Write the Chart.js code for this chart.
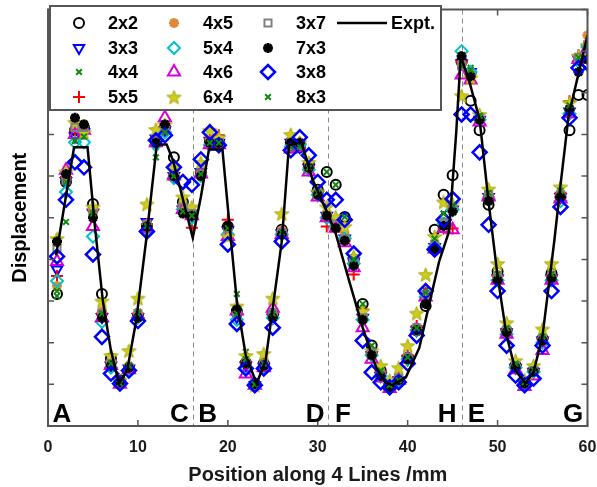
<!DOCTYPE html>
<html>
<head>
<meta charset="utf-8">
<script src="https://cdn.jsdelivr.net/npm/chart.js@4.4.1/dist/chart.umd.min.js"></script>
<style>
  html, body { margin: 0; padding: 0; background: #fff; }
  #wrap { width: 597px; height: 487px; }
</style>
</head>
<body>
<div id="wrap"><canvas id="chart" width="597" height="487"></canvas></div>
<script>
// Sample positions along the four lines (mm)
const positions = [1,2,3,4,5,6,7,8,9,10,11,12,13,14,15,16,17,18,19,20,
                   21,22,23,24,25,26,27,28,29,30,31,32,33,34,35,36,37,38,39,40,
                   41,42,43,44,45,46,47,48,49,50,51,52,53,54,55,56,57,58,59,60];

// Simulated displacement for each mesh (arbitrary units)
const mesh2x2 = [3.17,5.86,7.10,7.17,5.33,3.17,1.62,1.10,1.38,2.64,4.79,6.81,7.17,6.45,5.38,5.10,6.05,6.81,6.81,4.79,
                 2.76,1.52,1.02,1.50,2.69,4.71,6.81,6.69,6.29,5.67,6.10,5.79,5.02,4.00,2.93,1.93,1.33,0.98,1.10,1.64,
                 2.29,2.88,4.71,5.55,6.02,8.74,7.81,7.10,5.31,3.71,2.29,1.45,1.05,1.33,2.10,3.67,5.50,7.10,7.95,7.95];
const mesh3x3 = [3.76,5.88,6.95,7.05,5.12,2.62,1.45,1.02,1.38,2.62,4.90,6.90,7.10,6.00,5.20,5.05,6.10,6.85,6.80,4.70,
                 2.62,1.45,0.98,1.42,2.60,4.62,6.80,6.70,6.20,5.55,5.05,4.80,4.50,3.95,2.60,1.70,1.20,0.93,1.10,1.60,
                 2.30,3.10,4.30,4.85,5.20,8.71,8.50,7.35,5.50,3.55,2.25,1.40,1.00,1.30,2.05,3.55,5.50,7.55,8.80,9.05];
const mesh4x4 = [3.12,4.90,6.85,6.95,5.05,2.75,1.55,1.05,1.45,2.75,4.80,6.70,7.10,6.10,5.10,5.00,6.00,6.75,6.75,4.80,
                 3.17,1.78,1.05,1.50,2.75,4.70,6.65,6.70,6.25,5.60,5.00,4.90,4.50,4.05,2.70,1.80,1.30,0.95,1.15,1.65,
                 2.40,3.25,4.45,5.10,5.20,8.60,8.60,7.45,5.60,3.65,2.30,1.50,1.05,1.35,2.15,3.65,5.65,7.70,8.80,9.10];
const mesh5x5 = [3.60,5.98,7.10,7.05,5.20,2.70,1.50,1.05,1.40,2.70,4.85,6.90,7.20,6.00,5.25,4.76,6.10,6.90,6.98,4.95,
                 2.70,1.50,1.00,1.45,2.70,4.65,6.75,6.80,6.20,5.55,4.79,4.74,4.45,3.64,2.80,1.75,1.30,0.95,1.15,1.70,
                 2.40,3.20,4.20,4.74,4.74,8.75,8.45,7.40,5.50,3.60,2.30,1.45,1.00,1.35,2.10,3.60,5.60,7.80,8.90,9.15];
const mesh4x5 = [3.36,6.00,7.33,7.24,5.20,2.75,1.55,1.05,1.45,2.70,4.85,6.85,7.20,6.05,5.25,5.10,6.05,6.85,6.85,4.75,
                 2.70,1.50,1.02,1.50,2.70,4.70,6.75,6.80,6.20,5.60,5.10,4.85,4.55,4.00,2.65,1.75,1.25,0.93,1.15,1.65,
                 2.35,3.15,4.35,4.90,5.25,8.70,8.45,7.40,5.55,3.60,2.30,1.45,1.02,1.33,2.10,3.60,5.55,7.60,8.85,9.38];
const mesh5x4 = [3.48,5.62,6.81,6.81,4.55,2.50,1.40,1.00,1.35,2.60,4.70,6.75,7.05,5.95,5.20,5.00,6.00,6.75,6.75,4.60,
                 2.55,1.40,0.98,1.40,2.60,4.60,6.70,6.75,6.15,5.55,5.00,4.80,4.50,3.90,2.55,1.70,1.20,0.90,1.10,1.60,
                 2.30,3.10,4.30,4.85,5.20,9.00,8.50,7.35,5.45,3.50,2.20,1.40,1.00,1.30,2.00,3.50,5.40,7.50,8.75,9.10];
const mesh4x6 = [3.95,6.14,7.00,7.10,4.79,2.60,1.45,1.00,1.35,2.65,4.75,6.80,7.40,6.00,5.20,5.05,6.05,6.75,6.75,4.55,
                 2.76,1.25,0.98,1.40,2.83,4.60,6.65,6.70,6.10,5.50,5.00,4.75,4.40,3.80,2.36,1.60,1.15,0.90,1.10,1.60,
                 2.30,3.10,4.25,4.74,4.71,8.43,8.31,7.30,5.50,3.50,2.20,1.35,0.95,1.20,1.81,3.50,5.45,7.50,8.80,9.07];
const mesh6x4 = [4.50,6.10,7.29,7.05,5.26,3.00,1.69,1.10,1.81,3.07,5.33,7.12,7.24,6.21,5.50,5.26,6.33,7.10,6.93,4.55,
                 2.88,1.69,0.98,1.74,3.07,5.10,7.00,6.81,6.33,5.62,5.26,5.02,4.79,4.07,2.76,1.81,1.45,1.10,1.40,1.93,
                 2.71,3.64,4.55,5.38,5.33,7.93,8.36,7.48,5.69,3.90,2.48,1.57,1.10,1.45,2.33,3.90,5.74,7.76,8.88,9.14];
const mesh3x7 = [4.24,5.90,7.17,7.17,5.10,2.70,1.50,1.05,1.40,2.70,4.85,6.85,7.15,6.05,5.25,5.10,6.05,6.80,6.80,4.75,
                 2.70,1.50,1.02,1.48,2.70,4.65,6.75,6.75,6.20,5.60,5.05,4.85,4.50,3.95,2.60,1.75,1.25,0.93,1.15,1.65,
                 2.35,3.15,4.35,4.90,5.25,8.65,8.45,7.40,5.55,3.60,2.30,1.45,1.02,1.33,2.10,3.60,5.55,7.60,8.85,9.15];
const mesh7x3 = [4.43,6.05,7.40,7.24,5.00,2.60,1.45,1.05,1.40,2.60,4.79,6.80,7.24,6.00,5.10,5.05,6.00,6.80,6.80,4.80,
                 2.80,1.50,1.00,1.45,2.60,4.60,6.80,6.80,6.20,5.55,5.05,4.75,4.45,3.85,2.55,1.70,1.20,0.93,1.10,1.60,
                 2.30,2.93,4.25,4.80,5.15,8.88,8.40,7.35,5.40,3.50,2.25,1.40,1.02,1.30,2.05,3.55,5.50,7.60,8.50,8.80];
const mesh3x8 = [4.07,5.43,6.33,6.21,4.12,2.14,1.26,1.02,1.33,2.52,4.67,6.86,6.98,6.21,5.86,5.79,6.40,7.05,6.74,4.36,
                 2.45,1.38,0.98,1.38,2.36,4.43,6.62,6.93,6.50,5.86,5.43,5.43,4.95,4.14,2.05,1.29,1.05,0.93,1.05,1.50,
                 2.17,3.24,4.24,4.95,5.45,7.48,7.48,6.57,4.83,3.24,1.93,1.21,0.98,1.14,1.93,3.24,5.26,7.40,8.60,8.71];
const mesh8x3 = [3.24,5.86,6.85,6.95,5.10,2.70,1.50,1.02,1.45,2.70,4.80,6.45,7.05,6.00,5.15,5.05,6.05,6.80,6.80,4.75,
                 2.70,1.60,1.00,1.50,2.70,4.65,6.70,6.70,6.20,5.60,6.10,5.79,5.02,4.00,2.93,1.93,1.33,0.98,1.10,1.65,
                 2.35,3.20,4.50,5.10,5.30,8.65,8.55,7.45,5.60,3.65,2.35,1.50,1.05,1.35,2.15,3.65,5.65,7.70,8.85,9.10];

// Measured profile
const exptX = [0.9,2.9,4.4,5.2,6.1,7.0,7.9,8.8,9.8,10.9,12.1,13.2,13.9,16.1,
               17.0,17.9,19.4,20.1,21.0,22.0,23.2,24.2,25.1,26.0,26.8,28.2,29.4,31.1,
               32.0,33.5,35.0,36.5,37.5,38.3,39.8,41.3,42.4,43.5,44.6,45.4,45.9,
               46.9,48.0,49.0,50.0,51.0,52.0,53.1,54.0,55.0,56.3,57.0,57.9,60.0];
const exptY = [4.10,6.69,6.69,4.83,3.00,1.81,1.02,1.33,2.52,4.43,6.76,6.76,6.38,4.52,
               5.50,6.64,6.64,5.02,3.00,1.69,1.02,1.57,3.00,4.43,6.74,6.81,5.93,5.10,
               4.62,3.48,2.36,1.40,1.05,0.98,1.17,1.88,2.93,3.95,4.67,7.05,8.88,
               8.24,7.36,5.38,3.60,2.17,1.33,1.02,1.29,2.17,4.43,5.79,7.45,9.38];

// Line boundaries and corner labels
const boundaries = [16.1, 31.1, 46.0];
const cornerLabels = ['A','C','B','D','F','H','E','G'];
const cornerLabelX = [1.55, 14.6, 17.75, 29.7, 32.8, 44.4, 47.65, 58.4];
const xTicks = [0,10,20,30,40,50,60];

function makePentagram(fill, stroke, size) {
  const c = document.createElement('canvas');
  c.width = size; c.height = size;
  const g = c.getContext('2d');
  const cx = size / 2, cy = size / 2 + 0.8, r = size / 2 - 1, ri = r * 0.42;
  g.beginPath();
  for (let i = 0; i < 10; i++) {
    const a = -Math.PI / 2 + i * Math.PI / 5;
    const rr = i % 2 ? ri : r;
    g.lineTo(cx + rr * Math.cos(a), cy + rr * Math.sin(a));
  }
  g.closePath();
  g.fillStyle = fill; g.fill();
  g.lineWidth = 1; g.strokeStyle = stroke; g.stroke();
  return c;
}
const starImg = makePentagram('#cccc22', '#a8a800', 17);

const markerDefs = [
  { label: '2x2', data: mesh2x2, style: 'circle',   color: '#000000', radius: 5, width: 2,   rot: 0 },
  { label: '3x3', data: mesh3x3, style: 'triangle', color: '#0000ff', radius: 6, width: 2,   rot: 180 },
  { label: '4x4', data: mesh4x4, style: 'crossRot', color: '#108a10', radius: 4, width: 2,   rot: 0 },
  { label: '5x5', data: mesh5x5, style: 'cross',    color: '#ff0000', radius: 6, width: 2,   rot: 0 },
  { label: '4x5', data: mesh4x5, style: 'star',     color: '#e08838', radius: 5, width: 3,   rot: 0 },
  { label: '5x4', data: mesh5x4, style: 'rectRot',  color: '#00c4c4', radius: 6, width: 2,   rot: 0 },
  { label: '4x6', data: mesh4x6, style: 'triangle', color: '#d800d8', radius: 7, width: 2,   rot: 0 },
  { label: '6x4', data: mesh6x4, style: starImg,    color: '#cccc22', radius: 8, width: 1,   rot: 0 },
  { label: '3x7', data: mesh3x7, style: 'rect',     color: '#808080', radius: 5, width: 2,   rot: 0 },
  { label: '7x3', data: mesh7x3, style: 'star',     color: '#000000', radius: 5, width: 3,   rot: 0 },
  { label: '3x8', data: mesh3x8, style: 'rectRot',  color: '#0000ff', radius: 7, width: 2.5, rot: 0 },
  { label: '8x3', data: mesh8x3, style: 'crossRot', color: '#108a10', radius: 4, width: 2,   rot: 0 }
];

const datasets = [{
  label: 'Expt.',
  data: exptX.map((x, i) => ({ x, y: exptY[i] })),
  showLine: true,
  borderColor: '#000',
  borderWidth: 2.5,
  pointRadius: 0,
  tension: 0,
  order: 0
}];
markerDefs.forEach((m, i) => {
  datasets.push({
    label: m.label,
    data: positions.map((x, k) => ({ x, y: m.data[k] })),
    showLine: false,
    pointStyle: m.style,
    pointRadius: m.radius,
    pointBorderWidth: m.width,
    pointBorderColor: m.color,
    pointBackgroundColor: m.style === starImg ? m.color : 'rgba(0,0,0,0)',
    pointRotation: m.rot,
    pointHoverRadius: m.radius,
    order: markerDefs.length - i
  });
});

function drawMarker(ctx, m, x, y) {
  ctx.save();
  if (m.style === starImg) {
    ctx.drawImage(starImg, x - starImg.width / 2, y - starImg.height / 2);
  } else if (Chart.helpers && Chart.helpers.drawPoint) {
    ctx.strokeStyle = m.color;
    ctx.fillStyle = 'rgba(0,0,0,0)';
    ctx.lineWidth = m.width;
    Chart.helpers.drawPoint(ctx, { pointStyle: m.style, rotation: m.rot, radius: m.radius, borderWidth: m.width }, x, y);
  }
  ctx.restore();
}

const decorations = {
  id: 'decorations',
  beforeDatasetsDraw(chart) {
    const { ctx, chartArea: a, scales: { x } } = chart;
    ctx.save();
    ctx.strokeStyle = '#8a8a8a';
    ctx.lineWidth = 1;
    ctx.setLineDash([5, 4]);
    boundaries.forEach(b => {
      const px = Math.round(x.getPixelForValue(b)) + 0.5;
      ctx.beginPath(); ctx.moveTo(px, a.top); ctx.lineTo(px, a.bottom); ctx.stroke();
    });
    ctx.restore();
  },
  afterDraw(chart) {
    const { ctx, chartArea: a, scales: { x, y } } = chart;
    ctx.save();
    // frame with inward ticks
    ctx.strokeStyle = '#555';
    ctx.lineWidth = 1.5;
    ctx.beginPath();
    xTicks.forEach(v => {
      const px = x.getPixelForValue(v);
      ctx.moveTo(px, a.bottom); ctx.lineTo(px, a.bottom - 6);
      ctx.moveTo(px, a.top); ctx.lineTo(px, a.top + 6);
    });
    for (let v = 0; v <= 10; v++) {
      const py = y.getPixelForValue(v);
      ctx.moveTo(a.left, py); ctx.lineTo(a.left + 6, py);
      ctx.moveTo(a.right, py); ctx.lineTo(a.right - 6, py);
    }
    ctx.stroke();
    ctx.lineWidth = 2;
    ctx.strokeRect(a.left, a.top, a.right - a.left, a.bottom - a.top);

    // corner labels
    ctx.fillStyle = '#000';
    ctx.font = 'bold 26px "Liberation Sans", Arial, sans-serif';
    ctx.textAlign = 'center';
    ctx.textBaseline = 'alphabetic';
    cornerLabels.forEach((t, i) => {
      ctx.fillText(t, x.getPixelForValue(cornerLabelX[i]), a.bottom - 4);
    });

    // legend
    const lx = 50, ly = 6, lw = 391, lh = 104;
    ctx.fillStyle = '#fff';
    ctx.fillRect(lx, ly, lw, lh);
    ctx.strokeStyle = '#555';
    ctx.lineWidth = 2;
    ctx.strokeRect(lx, ly, lw, lh);
    const rowY = [23, 48, 72, 97];
    const markX = [79, 174, 268];
    const textX = [108, 203, 296];
    ctx.font = 'bold 18px "Liberation Sans", Arial, sans-serif';
    ctx.textAlign = 'left';
    ctx.textBaseline = 'middle';
    markerDefs.forEach((m, i) => {
      const col = Math.floor(i / 4), row = i % 4;
      drawMarker(ctx, m, markX[col], rowY[row]);
      ctx.fillStyle = '#000';
      ctx.fillText(m.label, textX[col], rowY[row] + 1);
    });
    ctx.strokeStyle = '#000';
    ctx.lineWidth = 2.5;
    ctx.beginPath(); ctx.moveTo(337, rowY[0]); ctx.lineTo(387, rowY[0]); ctx.stroke();
    ctx.fillStyle = '#000';
    ctx.fillText('Expt.', 391, rowY[0] + 1);
    ctx.restore();
  }
};

new Chart(document.getElementById('chart'), {
  type: 'scatter',
  data: { datasets },
  options: {
    responsive: false,
    animation: false,
    devicePixelRatio: 1,
    layout: { padding: { top: 6, right: 0, left: 0, bottom: 0 } },
    plugins: { legend: { display: false }, tooltip: { enabled: false } },
    scales: {
      x: {
        type: 'linear', min: 0, max: 60,
        afterFit(s) { s.height = 61; s.paddingLeft = 0; s.paddingRight = 9; },
        grid: { display: false, drawTicks: false },
        border: { display: false },
        ticks: {
          stepSize: 10, padding: 12, color: '#1a1a1a',
          font: { family: '"Liberation Sans", Arial, sans-serif', size: 16, weight: 'bold' }
        },
        title: {
          display: true, text: 'Position along 4 Lines /mm', color: '#1a1a1a',
          padding: { top: 0, bottom: 0 },
          font: { family: '"Liberation Sans", Arial, sans-serif', size: 20, weight: 'bold' }
        }
      },
      y: {
        type: 'linear', min: 0, max: 10,
        afterFit(s) { s.width = 48; },
        grid: { display: false, drawTicks: false },
        border: { display: false },
        ticks: { display: false, stepSize: 1 },
        title: {
          display: true, text: 'Displacement', color: '#000',
          padding: { top: 8, bottom: 0 },
          font: { family: '"Liberation Sans", Arial, sans-serif', size: 20, weight: 'bold' }
        }
      }
    }
  },
  plugins: [decorations]
});
</script>
</body>
</html>
